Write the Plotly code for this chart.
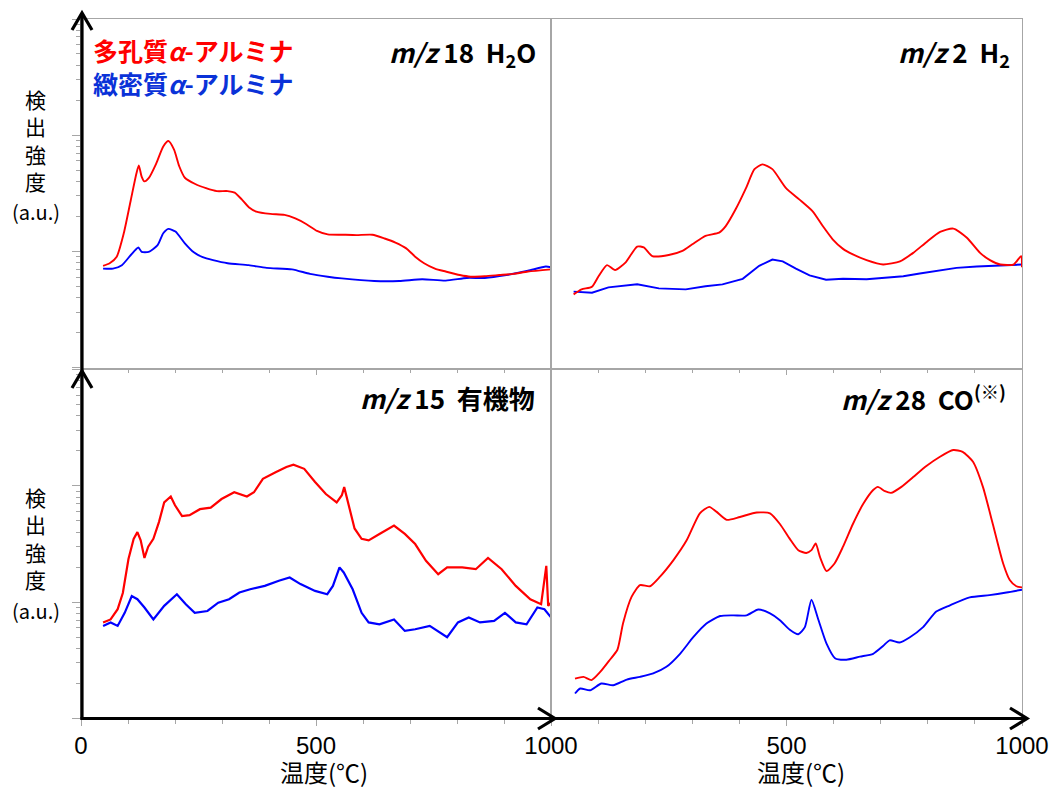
import plotly.graph_objects as go

W, H = 1049, 787

# ---------------- data (temperature in degC, detected intensity in a.u.; log scale) -------------
# m/z 18 H2O
t_h2o_por = [47, 61, 76, 91, 106, 118, 123, 129, 135, 144, 160, 175, 186, 198, 209, 221, 243, 266, 289, 312,
             327, 342, 357, 373, 403, 433, 456, 479, 502, 525, 555, 586, 620, 646, 669, 692, 711, 730, 753, 776,
             806, 829, 859, 890, 920, 951, 1000]
i_h2o_por = [7.5, 7.9, 9.0, 14.3, 27.7, 47, 55, 44, 40, 42.6, 57, 80, 89, 75, 54, 43, 38, 35, 33, 33,
             32, 28, 24, 22, 21, 20.6, 19.2, 17.2, 15, 14, 13.9, 13.8, 13.9, 12.9, 11.9, 10.6, 9.0, 7.9, 7.1, 6.7,
             6.25, 6.05, 6.1, 6.25, 6.4, 6.7, 7.0]
t_h2o_den = [47, 68, 87, 106, 122, 129, 144, 163, 175, 186, 201, 221, 240, 259, 281, 312, 357, 395, 449, 487,
             525, 555, 624, 677, 726, 776, 821, 859, 905, 951, 989, 1000]
i_h2o_den = [7.1, 7.1, 7.6, 9.3, 10.8, 9.9, 9.9, 11.3, 14.3, 15.6, 14.8, 11.7, 9.8, 8.9, 8.4, 7.9, 7.6, 7.2, 7.0, 6.4,
             6.05, 5.85, 5.55, 5.55, 5.75, 5.6, 5.9, 5.9, 6.25, 6.8, 7.4, 7.3]

# m/z 2 H2
t_h2_por = [48, 65, 87, 101, 119, 136, 158, 183, 197, 215, 250, 279, 300, 328, 357, 371, 392, 414, 432, 449,
            470, 499, 527, 556, 577, 598, 620, 641, 670, 705, 741, 769, 797, 826, 854, 883, 911, 932, 954, 982,
            998, 1000]
i_h2_por = [4.26, 4.7, 4.96, 6.1, 7.6, 6.9, 8.0, 11, 10.8, 9.1, 9.3, 10.1, 11.5, 13.6, 14.5, 16.5, 23, 35, 51, 56,
            51, 35, 28, 22, 16.5, 12.7, 10.5, 9.4, 8.4, 7.7, 8.2, 9.7, 12, 14.7, 15.7, 13.1, 9.7, 8.4, 7.7, 7.7,
            9.1, 7.3]
t_h2_den = [48, 87, 122, 183, 229, 286, 328, 364, 407, 442, 470, 492, 520, 549, 584, 620, 670, 705, 748, 783,
            819, 861, 904, 954, 1000]
i_h2_den = [4.5, 4.4, 4.9, 5.2, 4.8, 4.7, 5.0, 5.2, 5.8, 7.5, 8.5, 8.2, 7.1, 6.2, 5.7, 5.8, 5.75, 5.9, 6.1, 6.45,
            6.75, 7.2, 7.4, 7.5, 7.7]

# m/z 15 organics
t_org_por = [47, 63, 78, 89, 101, 112, 120, 127, 135, 143, 154, 166, 177, 191, 200, 215, 231, 253, 276, 299,
             326, 353, 368, 387, 414, 437, 452, 475, 498, 521, 544, 555, 560, 570, 582, 597, 612, 635, 666, 689,
             711, 734, 760, 779, 811, 840, 866, 895, 925, 956, 979, 990, 994, 1000]
i_org_por = [6.7, 7.1, 8.7, 12, 23.5, 35, 40, 34, 24, 30, 35, 49, 72, 81, 68, 55, 56, 63, 65, 77,
             88, 81, 88, 115, 131, 145, 152, 140, 108, 85, 72, 83, 97.5, 68, 43, 35, 34, 38.6, 45.5, 38.6,
             31.6, 22.7, 17.4, 19.9, 19.9, 19.2, 24, 19.2, 13.8, 10.6, 9.6, 20.5, 9.3, 9.9]
t_org_den = [47, 63, 78, 93, 108, 120, 135, 154, 177, 204, 223, 242, 269, 292, 315, 337, 360, 391, 421, 444,
             467, 498, 524, 536, 550, 559, 578, 597, 612, 635, 666, 689, 711, 742, 779, 802, 825, 849, 879, 902,
             925, 948, 971, 986, 1000]
i_org_den = [6.25, 6.7, 6.25, 8.1, 11.3, 10.6, 9.0, 7.1, 9.3, 11.7, 9.6, 8.1, 8.4, 9.9, 10.6, 12.1, 12.9, 13.8, 15.3, 16.3,
             14.3, 12.5, 11.7, 13.8, 19.9, 18, 12.9, 8.1, 6.7, 6.45, 7.1, 5.66, 5.85, 6.25, 5.0, 6.7, 7.4, 6.7, 6.9, 8.1,
             6.7, 6.45, 9.0, 8.7, 7.4]

# m/z 28 CO
t_co_por = [51, 69, 86, 104, 125, 141, 153, 171, 189, 210, 231, 260, 288, 316, 336, 351, 373, 401, 437, 465,
            486, 507, 525, 542, 553, 562, 571, 585, 602, 620, 641, 663, 684, 694, 709, 722, 744, 769, 797, 825,
            854, 874, 896, 917, 938, 960, 974, 988, 1000]
i_co_por = [2.2, 2.28, 2.14, 2.5, 3.2, 3.9, 6.6, 11.1, 14, 13.7, 16.5, 23, 34, 58, 66, 60, 51, 54, 59, 58,
            47, 35, 28, 26.5, 28, 32, 24.5, 18.5, 21.5, 30, 47, 70, 92, 98, 90, 87, 98, 119, 148, 177,
            203, 196, 161, 98, 47, 21.5, 15.5, 13.7, 13.4]
t_co_den = [51, 62, 83, 107, 132, 161, 189, 217, 245, 274, 302, 330, 359, 387, 415, 440, 465, 486, 507, 525,
            539, 553, 567, 585, 603, 627, 656, 684, 705, 719, 740, 762, 790, 818, 847, 889, 931, 967, 1000]
i_co_den = [1.64, 1.81, 1.75, 2.0, 1.93, 2.16, 2.28, 2.44, 2.78, 3.6, 5.0, 6.55, 7.6, 7.7, 7.7, 8.65, 8.0, 7.0, 5.8, 5.3,
            6.1, 10.5, 7.2, 4.4, 3.3, 3.2, 3.4, 3.6, 4.2, 4.7, 4.5, 5.0, 6.1, 8.3, 9.4, 11, 11.5, 12.1, 12.8]

series_names = ["多孔質α-アルミナ", "緻密質α-アルミナ"]
panel_titles = ["<i>m/z</i> 18\u00a0\u00a0H<sub>2</sub>O", "<i>m/z</i> 2\u00a0\u00a0H<sub>2</sub>",
                "<i>m/z</i> 15\u00a0\u00a0有機物", "<i>m/z</i> 28\u00a0\u00a0CO<sup>(※)</sup>"]
x_ticks = [0, 500, 1000]

RED = "#ff0000"
BLUE = "#0000ff"

# ---------------- helpers: pixel -> paper ----------------
def px(x):
    return x / W

def py(y):
    return 1 - y / H

fig = go.Figure()

panels = [
    (t_h2o_por, i_h2o_por, t_h2o_den, i_h2o_den, "x", "y", "spline", "spline"),
    (t_h2_por, i_h2_por, t_h2_den, i_h2_den, "x2", "y2", "spline", "linear"),
    (t_org_por, i_org_por, t_org_den, i_org_den, "x3", "y3", "linear", "linear"),
    (t_co_por, i_co_por, t_co_den, i_co_den, "x4", "y4", "spline", "spline"),
]
for k, (tp, ip, td, idn, xa, ya, shp_p, shp_d) in enumerate(panels):
    w = 2.2 if k == 2 else 1.9
    fig.add_trace(go.Scatter(x=td, y=idn, mode="lines",
                             line=dict(color=BLUE, width=w, shape=shp_d, smoothing=0.6),
                             name=series_names[1], xaxis=xa, yaxis=ya, showlegend=False))
    fig.add_trace(go.Scatter(x=tp, y=ip, mode="lines",
                             line=dict(color=RED, width=w, shape=shp_p, smoothing=0.6),
                             name=series_names[0], xaxis=xa, yaxis=ya, showlegend=False))

GRAY = "#a6a6a6"
LX = [px(81), px(551)]
RX = [px(551), px(1022)]
TY = [py(367.5), py(19)]
BY = [py(718.5), py(369.5)]

def xax(domain, anchor, labels, vals):
    return dict(domain=domain, anchor=anchor, range=[0, 1000], showgrid=False, zeroline=False,
                automargin=False,
                showline=True, mirror=True, linecolor=GRAY, linewidth=1,
                ticks="outside", tickcolor=GRAY, ticklen=6, tickwidth=1,
                tickmode="array", tickvals=vals, ticktext=[str(v) for v in vals],
                showticklabels=labels,
                tickfont=dict(family="Liberation Sans, Arial, sans-serif", size=24, color="#000"),
                minor=dict(dtick=100, tick0=0, ticks="outside", ticklen=4, tickcolor=GRAY, tickwidth=1))

def yax(domain, anchor, ticks):
    d = dict(domain=domain, anchor=anchor, type="log", range=[0, 3], showgrid=False, zeroline=False,
             automargin=False,
             showline=True, mirror=True, linecolor=GRAY, linewidth=1, showticklabels=False)
    if ticks:
        d.update(ticks="outside", tickcolor=GRAY, ticklen=8, tickwidth=1, dtick=1,
                 minor=dict(dtick="D1", ticks="outside", ticklen=4, tickcolor=GRAY, tickwidth=1))
    else:
        d.update(ticks="")
    return d

fig.update_layout(
    template="none",
    width=W, height=H, margin=dict(l=0, r=0, t=0, b=0, pad=0), autosize=False,
    paper_bgcolor="white", plot_bgcolor="rgba(0,0,0,0)", showlegend=False,
    xaxis=xax(LX, "y", False, x_ticks),
    yaxis=yax(TY, "x", True),
    xaxis2=xax(RX, "y2", False, x_ticks),
    yaxis2=yax(TY, "x2", False),
    xaxis3=xax(LX, "y3", True, x_ticks),
    yaxis3=yax(BY, "x3", True),
    xaxis4=xax(RX, "y4", True, [500, 1000]),
    yaxis4=yax(BY, "x4", False),
)

# ---------------- black arrow axes ----------------
shapes = []
def seg(x0, y0, x1, y1):
    shapes.append(dict(type="line", xref="paper", yref="paper", x0=px(x0), y0=py(y0), x1=px(x1), y1=py(y1),
                       line=dict(color="black", width=3.2), layer="above"))

def chevron(pts):
    p = "M " + " L ".join(f"{px(a):.5f},{py(b):.5f}" for a, b in pts)
    shapes.append(dict(type="path", xref="paper", yref="paper", path=p,
                       line=dict(color="black", width=3.2), layer="above"))

seg(82, 372, 82, 14)
chevron([(72, 30), (82, 13), (92, 30)])
seg(82, 719.5, 82, 372)
chevron([(72, 388), (82, 371), (92, 388)])
seg(80.5, 718.5, 554, 718.5)
chevron([(538, 708), (555, 718.5), (538, 729)])
seg(552, 718.5, 1026, 718.5)
chevron([(1010, 708), (1027, 718.5), (1010, 729)])
fig.update_layout(shapes=shapes)

# ---------------- texts ----------------
JP = "Noto Sans CJK JP, sans-serif"
ann = []
def text(x, y, s, size, color="black", xanchor="center", yanchor="middle", family=JP):
    ann.append(dict(xref="paper", yref="paper", x=px(x), y=py(y), text=s, showarrow=False,
                    xanchor=xanchor, yanchor=yanchor, align="center",
                    font=dict(family=family, size=size, color=color)))

text(91, 50, "<b>多孔質<i>α</i>-アルミナ</b>", 25, RED, xanchor="left")
text(91, 83, "<b>緻密質<i>α</i>-アルミナ</b>", 25, "#0a32d8", xanchor="left")

title_pos = [(538, 53), (1012, 53), (537, 397), (1008, 398)]
for (x, y), s in zip(title_pos, panel_titles):
    text(x, y, "<b>" + s + "</b>", 26, xanchor="right")

for y0 in (0, 398):
    text(35, 140 + y0, "検<br>出<br>強<br>度", 21)
    text(36, 212 + y0, "(a.u.)", 20)

text(324, 771, "温度(℃)", 24)
text(801, 771, "温度(℃)", 24)

fig.update_layout(annotations=ann)

fig.write_html("out.html", config={"displayModeBar": False},
               post_script="document.body.style.margin='0px';document.body.style.overflow='hidden';")
